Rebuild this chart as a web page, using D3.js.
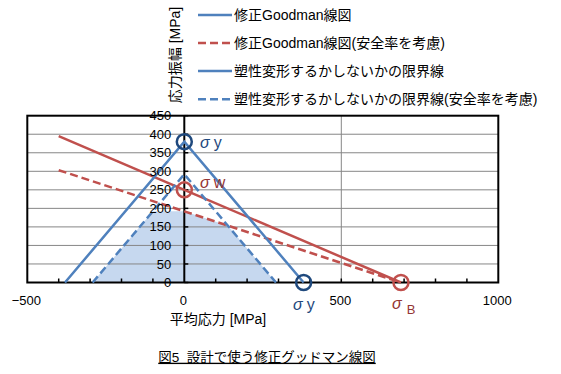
<!DOCTYPE html>
<html><head><meta charset="utf-8">
<script src="https://cdn.jsdelivr.net/npm/d3@7"></script>
<style>
body{margin:0;background:#fff;}
svg{display:block;}
text{font-family:"Liberation Sans","Noto Sans CJK JP",sans-serif;}
</style></head>
<body>
<script>
// ---- data ----
const xTicks = [-500, 0, 500, 1000];
const xMinorTicks = [-400,-300,-200,-100,100,200,300,400,600,700,800,900];
const yTicks = [0,50,100,150,200,250,300,350,400,450];
const xGridValues = [500];
const seriesNames = ["修正Goodman線図","修正Goodman線図(安全率を考慮)","塑性変形するかしないかの限界線","塑性変形するかしないかの限界線(安全率を考慮)"];
const goodmanX = [-400, 0, 690];
const goodmanY = [395, 250, 0];
const goodmanSafeX = [-400, 0, 690];
const goodmanSafeY = [303, 192, 0];
const yieldX = [-380, 0, 380];
const yieldY = [0, 380, 0];
const yieldSafeX = [-292, 0, 292];
const yieldSafeY = [0, 292, 0];
const regionX = [-292, -100, 0, 139, 292];
const regionY = [0, 192, 192, 153, 0];
const markerX = [0, 0, 380, 690];
const markerY = [380, 250, 0, 0];
const markerNames = ["σ y","σ w","σ y","σ B"];
const xTitle = "平均応力 [MPa]";
const yTitle = "応力振幅 [MPa]";
const caption = "図5  設計で使う修正グッドマン線図";

// ---- layout ----
const W = 561, H = 374;
const svg = d3.select("body").append("svg").attr("width", W).attr("height", H);
const x = d3.scaleLinear().domain([-500, 1000]).range([27.3, 498.3]);
const y = d3.scaleLinear().domain([0, 450]).range([282.5, 115.7]);

const blue = "#4f81bd", red = "#c0504d", navy = "#1f497d", darkRed = "#943634";
const zip = (xs, ys) => xs.map((v, i) => [v, ys[i]]);
const line = d3.line().x(d => x(d[0])).y(d => y(d[1]));

// fill region
svg.append("path").attr("d", line(zip(regionX, regionY)) + "Z")
  .attr("fill", "#c6d8ef").attr("stroke", "none");

// gridlines
const g = svg.append("g");
g.selectAll("line.hg").data(yTicks.filter(v => v > 0 && v < 450)).join("line")
  .attr("x1", x(-500)).attr("x2", x(1000)).attr("y1", d => y(d)).attr("y2", d => y(d))
  .attr("stroke", "#868686").attr("stroke-width", 1);
g.selectAll("line.vg").data(xGridValues).join("line")
  .attr("x1", d => x(d)).attr("x2", d => x(d)).attr("y1", y(0)).attr("y2", y(450))
  .attr("stroke", "#868686").attr("stroke-width", 1);

// minor ticks on x axis (inside)
svg.append("g").selectAll("line").data(xMinorTicks.concat([500])).join("line")
  .attr("x1", d => x(d)).attr("x2", d => x(d)).attr("y1", y(0)).attr("y2", y(0) - 4)
  .attr("stroke", "#000").attr("stroke-width", 1.5);
// y ticks on y axis (right)
svg.append("g").selectAll("line").data(yTicks).join("line")
  .attr("x1", x(0)).attr("x2", x(0) + 4).attr("y1", d => y(d)).attr("y2", d => y(d))
  .attr("stroke", "#000").attr("stroke-width", 1.5);

// border and y axis
svg.append("rect").attr("x", x(-500)).attr("y", y(450)).attr("width", x(1000) - x(-500))
  .attr("height", y(0) - y(450)).attr("fill", "none").attr("stroke", "#000").attr("stroke-width", 2);
svg.append("line").attr("x1", x(0)).attr("x2", x(0)).attr("y1", y(0)).attr("y2", y(450))
  .attr("stroke", "#000").attr("stroke-width", 2);

// series
const series = [
  {xs: goodmanX, ys: goodmanY, color: red, dash: null},
  {xs: goodmanSafeX, ys: goodmanSafeY, color: red, dash: "8,4"},
  {xs: yieldX, ys: yieldY, color: blue, dash: null},
  {xs: yieldSafeX, ys: yieldSafeY, color: blue, dash: "8,4"}
];
series.forEach(s => {
  svg.append("path").attr("d", line(zip(s.xs, s.ys))).attr("fill", "none")
    .attr("stroke", s.color).attr("stroke-width", 2.5)
    .attr("stroke-dasharray", s.dash);
});

// y tick labels
svg.append("g").selectAll("text").data(yTicks).join("text")
  .attr("x", x(0) - 13).attr("y", d => y(d)).attr("dy", "0.35em")
  .attr("text-anchor", "end").attr("font-size", 13).attr("fill", "#000").text(d => d);
// x tick labels
svg.append("g").selectAll("text").data(xTicks).join("text")
  .attr("x", d => x(d) - 1).attr("y", 300).attr("dy", "0.35em")
  .attr("text-anchor", "middle").attr("font-size", 13).attr("fill", "#000")
  .text(d => d < 0 ? "−" + Math.abs(d) : d);

// markers
const mColors = [navy, red, navy, red];
markerX.forEach((mx, i) => {
  svg.append("circle").attr("cx", x(mx)).attr("cy", y(markerY[i])).attr("r", 7.5)
    .attr("fill", "none").attr("stroke", mColors[i]).attr("stroke-width", 2.5);
});
const lblColors = [navy, darkRed, navy, darkRed];
const lblPos = [[200, 148], [200, 188], [293, 310], [392, 309]];
markerNames.forEach((nm, i) => {
  const parts = nm.split(" ");
  const t = svg.append("text").attr("x", lblPos[i][0]).attr("y", lblPos[i][1])
    .attr("font-size", 16).attr("fill", lblColors[i]);
  t.append("tspan").attr("font-style", "italic").text(parts[0]);
  if (parts[1] === "B") {
    t.append("tspan").attr("dx", 5).attr("dy", 5).attr("font-size", 13).text(parts[1]);
  } else {
    t.append("tspan").attr("dx", 4).text(parts[1]);
  }
});

// legend (first entry's swatch is blue in the original)
const legColors = [blue, red, blue, blue];
const legY = [15, 43, 71, 99.3];
seriesNames.forEach((nm, i) => {
  svg.append("line").attr("x1", 198).attr("x2", 232).attr("y1", legY[i]).attr("y2", legY[i])
    .attr("stroke", legColors[i]).attr("stroke-width", 2.5).attr("stroke-dasharray", series[i].dash);
  svg.append("text").attr("x", 234).attr("y", legY[i]).attr("dy", "0.35em")
    .attr("font-size", 14).attr("fill", "#000").text(nm);
});

// axis titles
svg.append("text").attr("transform", "translate(180,55) rotate(-90)")
  .attr("text-anchor", "middle").attr("font-size", 14).attr("fill", "#000").text(yTitle);
svg.append("text").attr("x", 218).attr("y", 319).attr("dy", "0.35em")
  .attr("text-anchor", "middle").attr("font-size", 14).attr("fill", "#000").text(xTitle);

// caption
svg.append("text").attr("x", 267).attr("y", 357).attr("dy", "0.35em")
  .attr("text-anchor", "middle").attr("font-size", 13.5).attr("fill", "#000")
  .attr("text-decoration", "underline").attr("xml:space", "preserve")
  .style("white-space", "pre").text(caption);
</script>
</body></html>
